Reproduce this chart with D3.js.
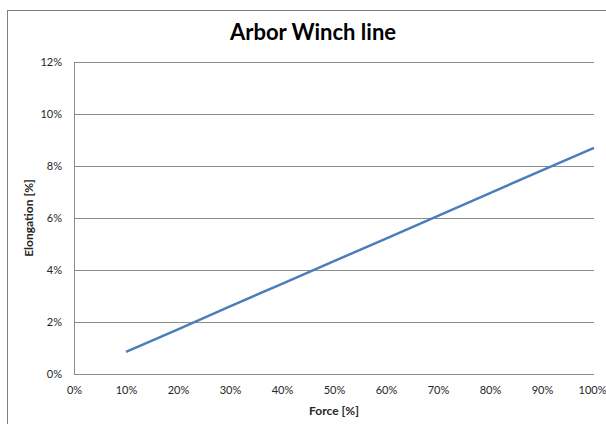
<!DOCTYPE html>
<html><head><meta charset="utf-8">
<script src="https://cdn.jsdelivr.net/npm/d3@7"></script>
<style>
html,body{margin:0;padding:0;background:#fff;}
svg{display:block;}
text{font-family:Lato,"Open Sans",sans-serif;}
</style></head>
<body>
<script>
const title = "Arbor Winch line";
const xLabel = "Force [%]";
const yLabel = "Elongation [%]";
const force = [10, 20, 30, 40, 50, 60, 70, 80, 90, 100];
const elongation = [0.85, 1.72, 2.6, 3.47, 4.34, 5.21, 6.08, 6.96, 7.83, 8.7];
const xTicks = [0, 10, 20, 30, 40, 50, 60, 70, 80, 90, 100];
const yTicks = [0, 2, 4, 6, 8, 10, 12];

const W = 606, H = 424;
const svg = d3.select("body").append("svg").attr("width", W).attr("height", H);

svg.append("rect").attr("x", 7.5).attr("y", 10.5).attr("width", W).attr("height", H)
  .attr("fill", "#fff").attr("stroke", "#7f7f7f").attr("stroke-width", 1);

const x = d3.scaleLinear().domain([0, 100]).range([74, 594]);
const y = d3.scaleLinear().domain([0, 12]).range([374, 62]);

// gridlines
svg.append("g").selectAll("line").data(yTicks.filter(d => d > 0)).join("line")
  .attr("x1", x(0)).attr("x2", x(100))
  .attr("y1", d => Math.round(y(d)) + 0.5).attr("y2", d => Math.round(y(d)) + 0.5)
  .attr("stroke", "#8c8c8c").attr("stroke-width", 1);

// axes lines
svg.append("line").attr("x1", x(0) + 0.5).attr("x2", x(0) + 0.5).attr("y1", y(12)).attr("y2", y(0))
  .attr("stroke", "#8c8c8c");
svg.append("line").attr("x1", x(0)).attr("x2", x(100)).attr("y1", y(0) + 0.5).attr("y2", y(0) + 0.5)
  .attr("stroke", "#8c8c8c");

// y tick labels
const yAxis = d3.axisLeft(y).tickValues(yTicks).tickFormat(d => d + "%").tickSize(0).tickPadding(12);
const gy = svg.append("g").attr("transform", `translate(${x(0)},0)`).call(yAxis);
gy.select(".domain").remove();
gy.selectAll("text").attr("font-size", 11).attr("fill", "#262626").style("font-family", "Lato, sans-serif");

// x tick labels
const xAxis = d3.axisBottom(x).tickValues(xTicks).tickFormat(d => d + "%").tickSize(0).tickPadding(12);
const gx = svg.append("g").attr("transform", `translate(0,${y(0)})`).call(xAxis);
gx.select(".domain").remove();
gx.selectAll("text").attr("font-size", 11).attr("fill", "#262626").style("font-family", "Lato, sans-serif");
gx.selectAll("text").filter(d => d === 100).attr("dx", -2);

// line
const line = d3.line().x((d, i) => x(force[i])).y(d => y(d));
svg.append("path").datum(elongation).attr("d", line)
  .attr("fill", "none").attr("stroke", "#4a7ebb").attr("stroke-width", 2.5);

// title
svg.append("text").attr("x", 313).attr("y", 40).attr("text-anchor", "middle")
  .attr("font-size", 22).attr("font-weight", "bold").attr("fill", "#000").text(title);

// axis titles
svg.append("text").attr("x", x(50)).attr("y", 415).attr("text-anchor", "middle")
  .attr("font-size", 12).attr("font-weight", "bold").attr("fill", "#262626").text(xLabel);
svg.append("text").attr("transform", `translate(33,${(y(0) + y(12)) / 2}) rotate(-90)`)
  .attr("text-anchor", "middle")
  .attr("font-size", 12).attr("font-weight", "bold").attr("fill", "#262626").text(yLabel);
</script>
</body></html>
